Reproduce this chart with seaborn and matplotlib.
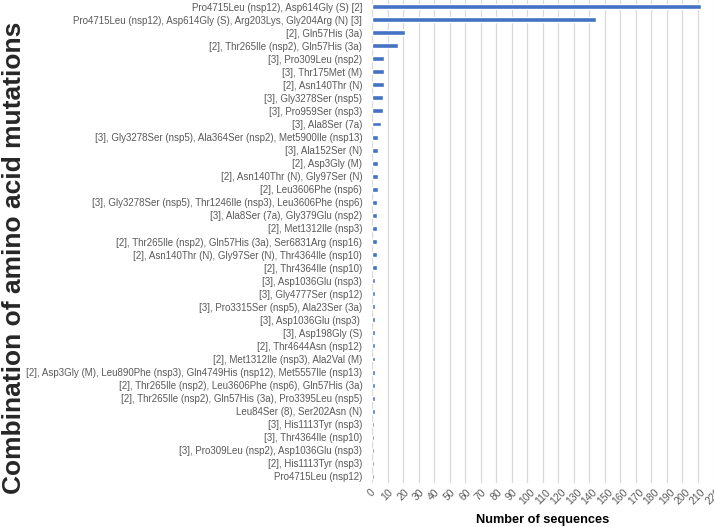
import pandas as pd
import seaborn as sns
import matplotlib.pyplot as plt

# mutation combinations, top to bottom as shown in the chart
combinations = [
    "Pro4715Leu (nsp12), Asp614Gly (S) [2]",
    "Pro4715Leu (nsp12), Asp614Gly (S), Arg203Lys, Gly204Arg (N) [3]",
    "[2], Gln57His (3a)",
    "[2], Thr265Ile (nsp2), Gln57His (3a)",
    "[3], Pro309Leu (nsp2)",
    "[3], Thr175Met (M)",
    "[2], Asn140Thr (N)",
    "[3], Gly3278Ser (nsp5)",
    "[3], Pro959Ser (nsp3)",
    "[3], Ala8Ser (7a)",
    "[3], Gly3278Ser (nsp5), Ala364Ser (nsp2), Met5900Ile (nsp13)",
    "[3], Ala152Ser (N)",
    "[2], Asp3Gly (M)",
    "[2], Asn140Thr (N), Gly97Ser (N)",
    "[2], Leu3606Phe (nsp6)",
    "[3], Gly3278Ser (nsp5), Thr1246Ile (nsp3), Leu3606Phe (nsp6)",
    "[3], Ala8Ser (7a), Gly379Glu (nsp2)",
    "[2], Met1312Ile (nsp3)",
    "[2], Thr265Ile (nsp2), Gln57His (3a), Ser6831Arg (nsp16)",
    "[2], Asn140Thr (N), Gly97Ser (N), Thr4364Ile (nsp10)",
    "[2], Thr4364Ile (nsp10)",
    "[3], Asp1036Glu (nsp3)",
    "[3], Gly4777Ser (nsp12)",
    "[3], Pro3315Ser (nsp5), Ala23Ser (3a)",
    "[3], Asp1036Glu (nsp3) ",
    "[3], Asp198Gly (S)",
    "[2], Thr4644Asn (nsp12)",
    "[2], Met1312Ile (nsp3), Ala2Val (M)",
    "[2], Asp3Gly (M), Leu890Phe (nsp3), Gln4749His (nsp12), Met5557Ile (nsp13)",
    "[2], Thr265Ile (nsp2), Leu3606Phe (nsp6), Gln57His (3a)",
    "[2], Thr265Ile (nsp2), Gln57His (3a), Pro3395Leu (nsp5)",
    "Leu84Ser (8), Ser202Asn (N)",
    "[3], His1113Tyr (nsp3)",
    "[3], Thr4364Ile (nsp10)",
    "[3], Pro309Leu (nsp2), Asp1036Glu (nsp3)",
    "[2], His1113Tyr (nsp3)",
    "Pro4715Leu (nsp12)",
]
sequences = [212, 144, 21, 17, 8, 8, 8, 7, 7, 6,
             4, 4, 4, 4, 4,
             3, 3, 3, 3, 3, 3,
             2, 2, 2, 2, 2, 2, 2, 2, 2, 2, 2,
             1, 1, 1, 1, 1]
x_ticks = list(range(0, 230, 10))

df = pd.DataFrame({"combination": combinations, "sequences": sequences})

sns.set_style("white")
plt.rcParams["font.family"] = ["Liberation Sans", "DejaVu Sans"]

fig = plt.figure(figsize=(7.14, 5.27), dpi=100)
ax = fig.add_axes([372 / 714, 44 / 527, 341.5 / 714, 483 / 527])

sns.barplot(data=df, x="sequences", y="combination", orient="h",
            color="#4472C4", width=0.38, saturation=1, ax=ax, zorder=3)

ax.set_xlim(0, 220)
ax.set_ylim(len(combinations) - 0.5, -0.5)
ax.set_xticks(x_ticks)
ax.set_xticklabels([str(t) for t in x_ticks], rotation=45, fontsize=7.5, color="#595959")
ax.tick_params(axis="y", labelsize=7, labelcolor="#595959", length=0, pad=7)
ax.tick_params(axis="x", length=0, pad=3)
ax.grid(axis="x", color="#d9d9d9", linewidth=0.9, zorder=0)
ax.set_axisbelow(True)
for side in ["top", "right", "bottom", "left"]:
    ax.spines[side].set_visible(False)

ax.set_xlabel("Number of sequences", fontsize=9.2, fontweight="bold", color="black", labelpad=5)
ax.set_ylabel("")
fig.text(0.02, 0.51, "Combination of amino acid mutations", rotation=90,
         fontsize=19, fontweight="bold", ha="center", va="center")

fig.savefig("out.png", dpi=100)
